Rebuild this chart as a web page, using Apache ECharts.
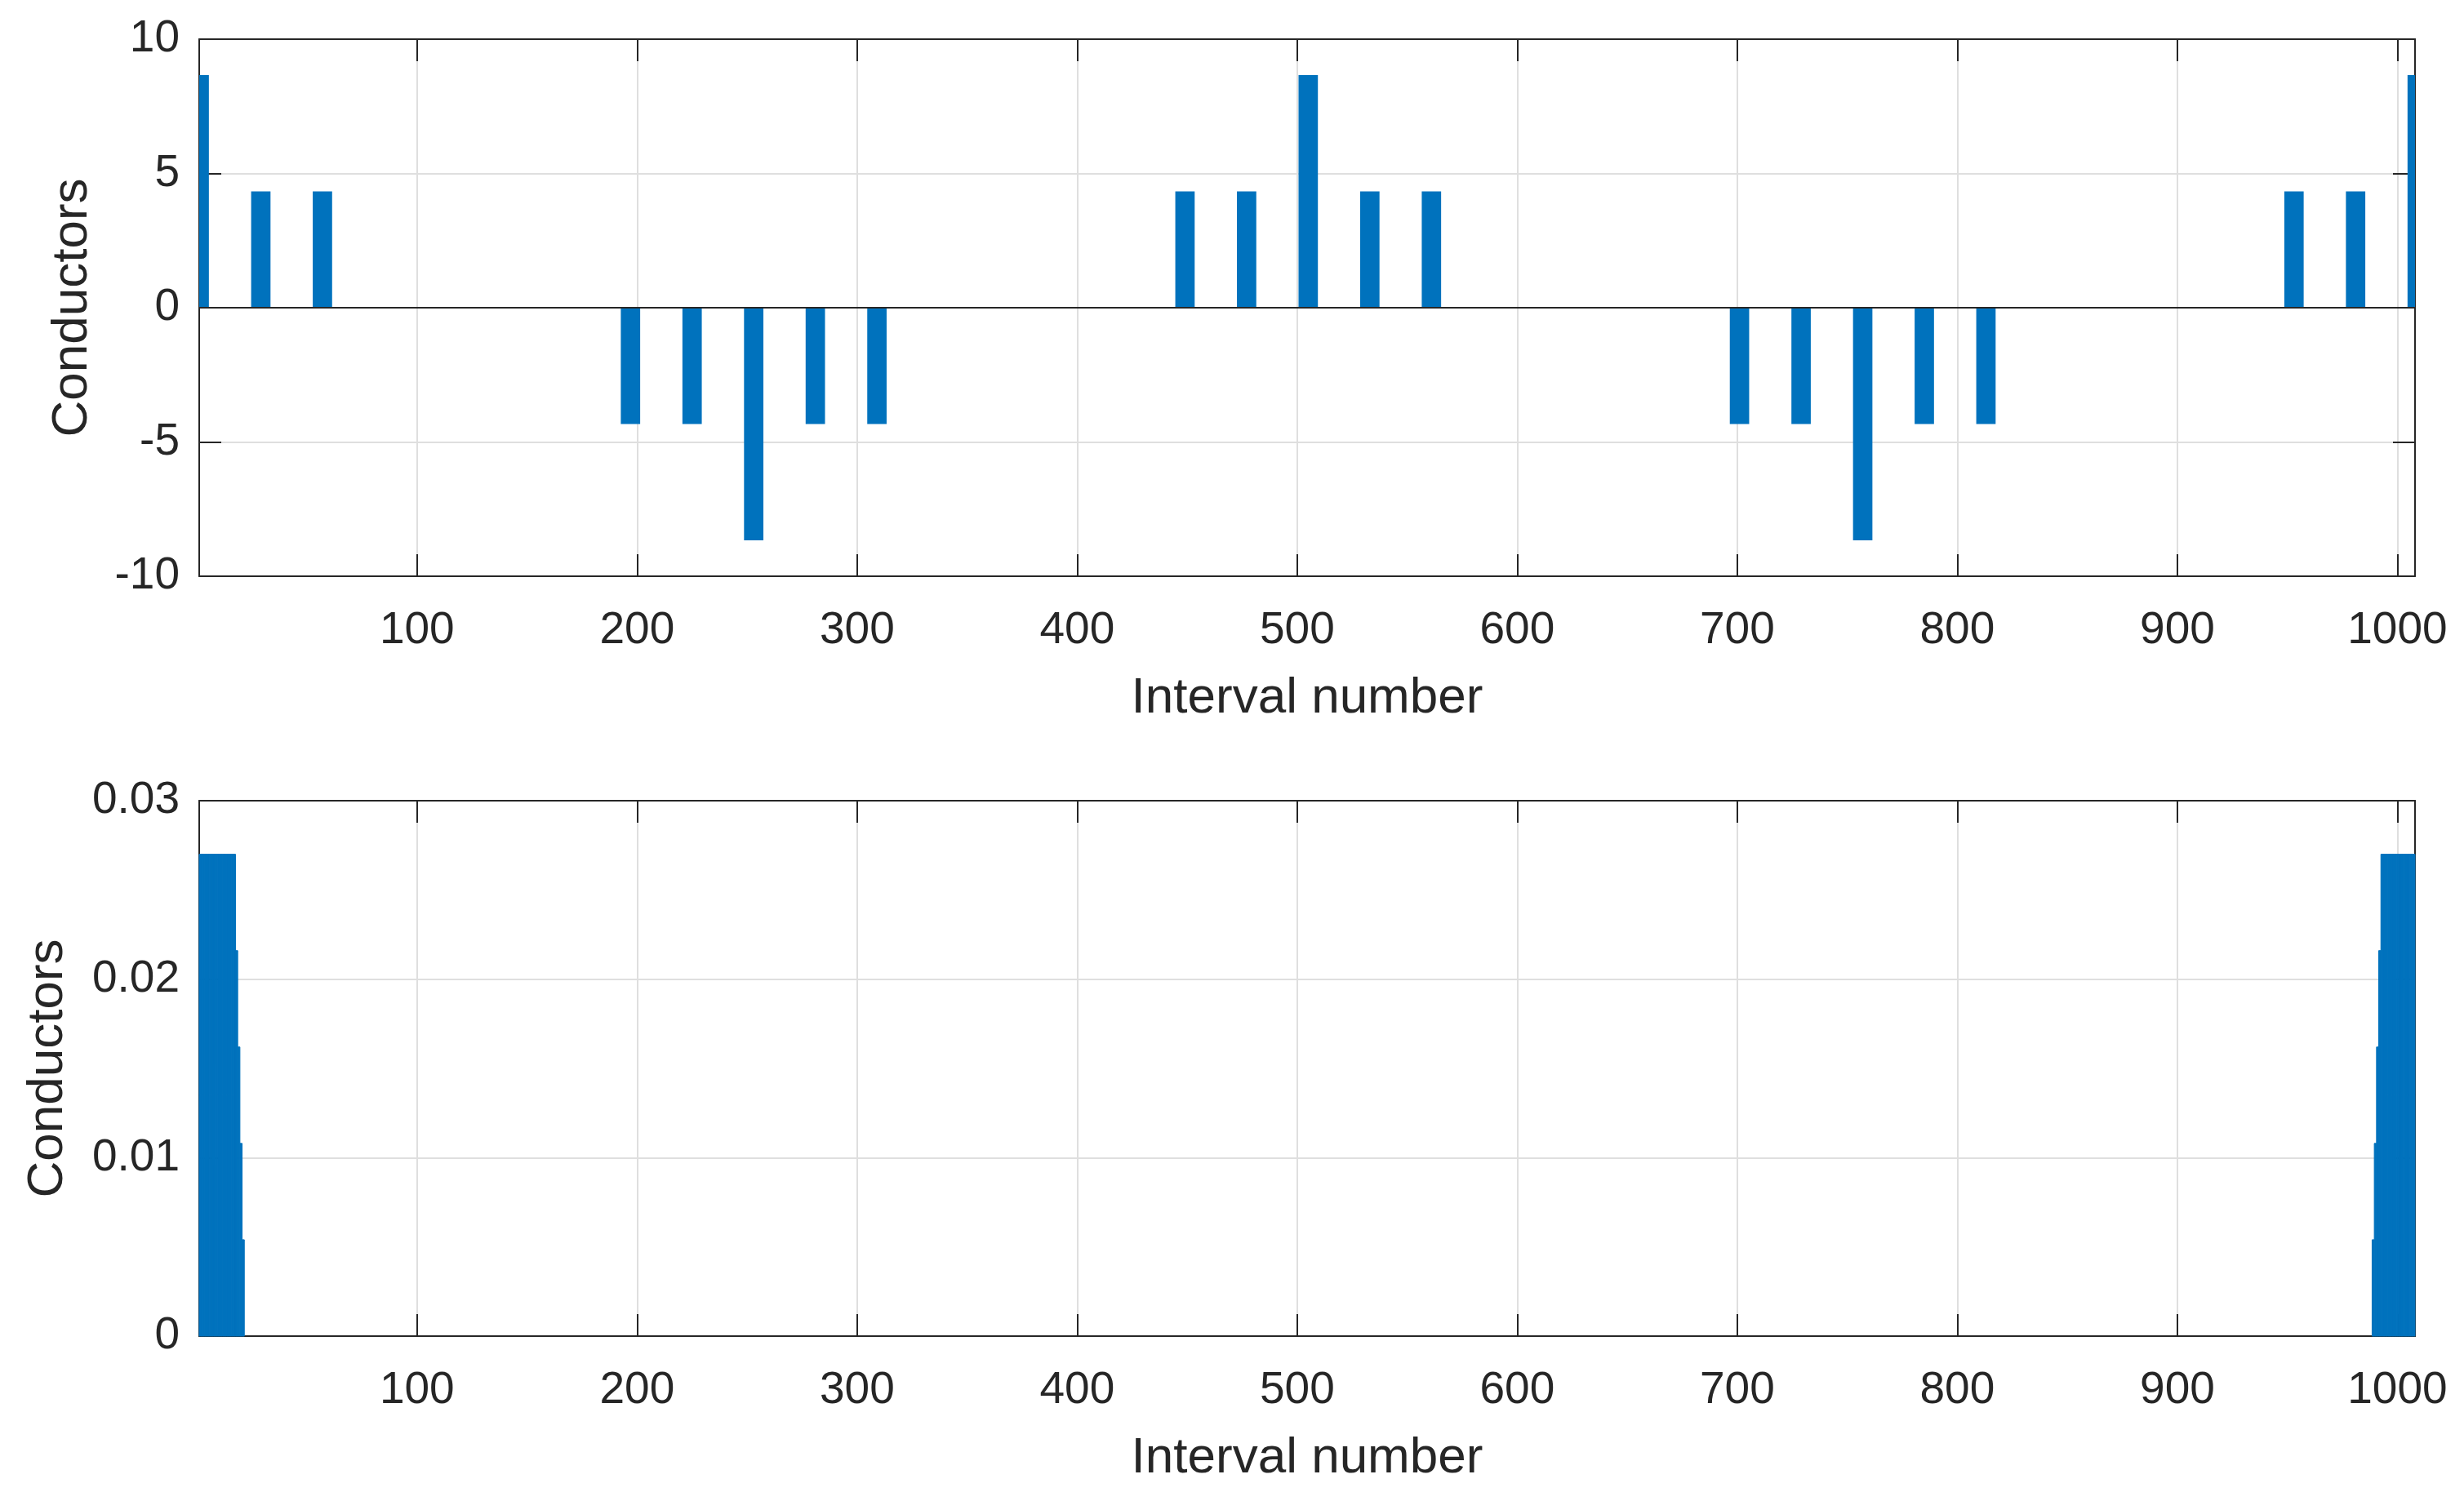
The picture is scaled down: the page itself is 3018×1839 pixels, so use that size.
<!DOCTYPE html>
<html lang="en">
<head>
    <meta charset="UTF-8">
    <title>Conductors per interval</title>
    <style>
        html, body {
            margin: 0;
            padding: 0;
            background: #ffffff;
        }
        #chart {
            width: 3018px;
            height: 1839px;
        }
    </style>
    <script src="https://cdn.jsdelivr.net/npm/echarts@6/dist/echarts.min.js"></script>
</head>
<body>
    <div id="chart"></div>
    <script>
        // top plot: conductor distribution
        const topX = [1, 29, 57, 197, 225, 253, 281, 309, 449, 477, 505, 533, 561,
                      701, 729, 757, 785, 813, 953, 981, 1009];
        const topY = [8.66, 4.33, 4.33, -4.33, -4.33, -8.66, -4.33, -4.33, 4.33, 4.33, 8.66, 4.33, 4.33,
                      -4.33, -4.33, -8.66, -4.33, -4.33, 4.33, 4.33, 8.66];

        // bottom plot: values near both ends
        const bottomX = [1, 2, 3, 4, 5, 6, 7, 8, 9, 10, 11, 12, 13, 14, 15, 16, 17, 18, 19, 20, 21,
                         989, 990, 991, 992, 993, 994, 995, 996, 997, 998, 999, 1000,
                         1001, 1002, 1003, 1004, 1005, 1006, 1007, 1008];
        const bottomY = [0.027, 0.027, 0.027, 0.027, 0.027, 0.027, 0.027, 0.027, 0.027, 0.027,
                         0.027, 0.027, 0.027, 0.027, 0.027, 0.027, 0.027, 0.0216, 0.0162, 0.0108, 0.0054,
                         0.0054, 0.0108, 0.0162, 0.0216, 0.027, 0.027, 0.027, 0.027, 0.027, 0.027,
                         0.027, 0.027, 0.027, 0.027, 0.027, 0.027, 0.027, 0.027, 0.027, 0.027];

        const xTicks = [100, 200, 300, 400, 500, 600, 700, 800, 900, 1000];
        const xMin = 1, xMax = 1008;

        const ink = '#262626';
        const barColor = '#0072bd';
        const gridColor = '#dfdfdf';
        const font = "'Liberation Sans', Arial, Helvetica, sans-serif";

        function pair(xs, ys) {
            return xs.map((x, i) => [x, ys[i]]);
        }

        // bar drawn in data units, clipped to the plot box
        function barRenderer(width, edge) {
            return function (params, api) {
                const x = api.value(0), y = api.value(1);
                const p0 = api.coord([x - width / 2, y]);
                const p1 = api.coord([x + width / 2, 0]);
                const cs = params.coordSys;
                const rect = echarts.graphic.clipRectByRect({
                    x: p0[0],
                    y: Math.min(p0[1], p1[1]),
                    width: p1[0] - p0[0],
                    height: Math.abs(p1[1] - p0[1])
                }, { x: cs.x, y: cs.y, width: cs.width, height: cs.height });
                return rect && {
                    type: 'rect',
                    shape: rect,
                    style: edge ? { fill: barColor, stroke: barColor, lineWidth: 1 } : { fill: barColor }
                };
            };
        }

        function xAxes(gridIndex) {
            const base = {
                type: 'value',
                gridIndex: gridIndex,
                min: xMin,
                max: xMax,
                axisLine: { show: true, onZero: false, lineStyle: { color: ink, width: 2 } },
                axisTick: { show: true, inside: true, length: 27, customValues: xTicks,
                            lineStyle: { color: ink, width: 2 } }
            };
            return [
                Object.assign({}, base, {
                    position: 'bottom',
                    name: 'Interval number',
                    nameLocation: 'middle',
                    nameGap: 119,
                    nameTextStyle: { fontSize: 62, color: ink, fontFamily: font },
                    axisLabel: { customValues: xTicks, fontSize: 55, color: ink, fontFamily: font,
                                 margin: 39, formatter: v => String(v) },
                    splitLine: { show: true, lineStyle: { color: gridColor, width: 2 } }
                }),
                Object.assign({}, base, {
                    position: 'top',
                    axisLabel: { show: false },
                    splitLine: { show: false }
                })
            ];
        }

        function yAxes(gridIndex, min, max, interval, nameGap, fmt) {
            const base = {
                type: 'value',
                gridIndex: gridIndex,
                min: min,
                max: max,
                interval: interval,
                axisLine: { show: true, onZero: false, lineStyle: { color: ink, width: 2 } },
                axisTick: { show: true, inside: true, length: 27, lineStyle: { color: ink, width: 2 } }
            };
            return [
                Object.assign({}, base, {
                    position: 'left',
                    name: 'Conductors',
                    nameLocation: 'middle',
                    nameGap: nameGap,
                    nameTextStyle: { fontSize: 62, color: ink, fontFamily: font },
                    axisLabel: { fontSize: 55, color: ink, fontFamily: font, margin: 24, formatter: fmt },
                    splitLine: { show: true, lineStyle: { color: gridColor, width: 2 } }
                }),
                Object.assign({}, base, {
                    position: 'right',
                    axisLabel: { show: false },
                    splitLine: { show: false }
                })
            ];
        }

        const chart = echarts.init(document.getElementById('chart'), null, { renderer: 'canvas' });
        chart.setOption({
            animation: false,
            backgroundColor: '#ffffff',
            grid: [
                { left: 244, top: 48, width: 2714, height: 658 },
                { left: 244, top: 981, width: 2714, height: 656 }
            ],
            xAxis: xAxes(0).concat(xAxes(1)),
            yAxis: yAxes(0, -10, 10, 5, 124, v => String(v))
                .concat(yAxes(1, 0, 0.03, 0.01, 154, v => v === 0 ? '0' : String(+v.toFixed(2)))),
            series: [
                {
                    type: 'custom',
                    xAxisIndex: 0,
                    yAxisIndex: 0,
                    data: pair(topX, topY),
                    renderItem: barRenderer(8.8, false),
                    markLine: {
                        silent: true,
                        symbol: 'none',
                        label: { show: false },
                        lineStyle: { color: ink, width: 2, type: 'solid' },
                        data: [{ yAxis: 0 }]
                    }
                },
                {
                    type: 'custom',
                    xAxisIndex: 2,
                    yAxisIndex: 2,
                    data: pair(bottomX, bottomY),
                    renderItem: barRenderer(1, true)
                }
            ]
        });
    </script>
</body>
</html>
